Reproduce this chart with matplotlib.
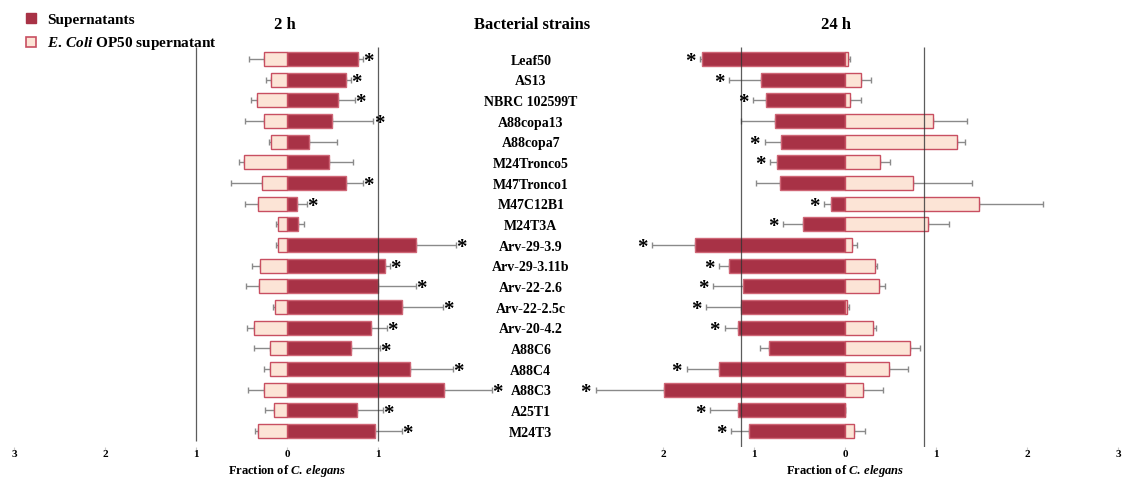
import numpy as np
import matplotlib.pyplot as plt
from matplotlib.lines import Line2D

plt.rcParams['font.family'] = ['Liberation Serif', 'DejaVu Serif']
plt.rcParams['font.weight'] = 'bold'
plt.rcParams['mathtext.fontset'] = 'custom'
plt.rcParams['mathtext.rm'] = 'Liberation Serif:bold'
plt.rcParams['mathtext.it'] = 'Liberation Serif:italic:bold'

strains = ['Leaf50', 'AS13', 'NBRC 102599T', 'A88copa13', 'A88copa7', 'M24Tronco5',
           'M47Tronco1', 'M47C12B1', 'M24T3A', 'Arv-29-3.9', 'Arv-29-3.11b',
           'Arv-22-2.6', 'Arv-22-2.5c', 'Arv-20-4.2', 'A88C6', 'A88C4', 'A88C3',
           'A25T1', 'M24T3']

# 2 h
sup_2h = [0.78, 0.645, 0.557, 0.50, 0.245, 0.46, 0.645, 0.106, 0.125, 1.42,
          1.077, 1.0, 1.26, 0.92, 0.70, 1.35, 1.73, 0.766, 0.97]
sup_2h_err = [0.05, 0.06, 0.19, 0.45, 0.31, 0.27, 0.19, 0.11, 0.066, 0.44,
              0.05, 0.42, 0.45, 0.18, 0.32, 0.47, 0.52, 0.29, 0.29]
op_2h = [0.25, 0.176, 0.326, 0.25, 0.18, 0.47, 0.27, 0.32, 0.10, 0.10,
         0.30, 0.31, 0.128, 0.36, 0.187, 0.183, 0.25, 0.143, 0.32]
op_2h_err = [0.17, 0.055, 0.07, 0.21, 0.015, 0.055, 0.35, 0.14, 0.02, 0.02,
             0.08, 0.14, 0.025, 0.08, 0.18, 0.065, 0.18, 0.10, 0.03]
sig_2h = [1, 1, 1, 1, 0, 0, 1, 1, 0, 1, 1, 1, 1, 1, 1, 1, 1, 1, 1]

# 24 h
sup_24h = [1.57, 0.92, 0.863, 0.77, 0.707, 0.743, 0.714, 0.157, 0.46, 1.647,
           1.27, 1.118, 1.137, 1.18, 0.83, 1.38, 1.99, 1.17, 1.057]
sup_24h_err = [0.02, 0.35, 0.145, 0.37, 0.175, 0.077, 0.26, 0.073, 0.22, 0.47,
               0.11, 0.33, 0.39, 0.14, 0.10, 0.36, 0.75, 0.31, 0.19]
op_24h = [0.03, 0.18, 0.06, 0.965, 1.227, 0.38, 0.747, 1.475, 0.915, 0.073,
          0.325, 0.37, 0.02, 0.306, 0.72, 0.488, 0.20, 0.0, 0.098]
op_24h_err = [0.03, 0.11, 0.12, 0.38, 0.09, 0.12, 0.645, 0.70, 0.23, 0.055,
              0.03, 0.07, 0.02, 0.036, 0.105, 0.21, 0.22, 0.0, 0.125]
sig_24h = [1, 1, 1, 0, 1, 1, 0, 1, 1, 1, 1, 1, 1, 1, 0, 1, 1, 1, 1]

escuro = '#a83246'
escuro_borda = '#cf6676'
claro = '#fce4d6'
claro_borda = '#c84f61'
cinza = '#8a8a8a'

y = np.arange(len(strains))
zeros = np.zeros(len(strains))

fig = plt.figure(figsize=(11.25, 4.79), dpi=100)
ax1 = fig.add_axes([0.01244, 0.0668, 0.4853, 0.8497])
ax2 = fig.add_axes([0.5084, 0.0668, 0.4853, 0.8497])


def eixo(ax, ticks):
    ax.set_xlim(-3, 3)
    ax.set_ylim(18.77, -0.92)
    ax.patch.set_visible(False)
    for s in ax.spines.values():
        s.set_visible(False)
    ax.set_yticks([])
    ax.set_xticks(ticks)
    ax.set_xticklabels([str(abs(t)) for t in ticks], fontsize=8, fontweight='bold')
    ax.tick_params(axis='x', length=2, color='#c8c8c8', pad=0.5)


# painel 2 h: sobrenadantes para a direita, OP50 para a esquerda
ax1.barh(y, sup_2h, height=0.68, color=escuro, edgecolor=escuro_borda, lw=1, zorder=2)
ax1.barh(y, -np.array(op_2h), height=0.68, color=claro, edgecolor=claro_borda, lw=1, zorder=2)
ax1.errorbar(sup_2h, y, xerr=[zeros, sup_2h_err], fmt='none', ecolor=cinza,
             elinewidth=1, capsize=2.5, zorder=1)
ax1.errorbar(-np.array(op_2h), y, xerr=[op_2h_err, zeros], fmt='none', ecolor=cinza,
             elinewidth=1, capsize=2.5, zorder=1)
ax1.vlines([-1, 1], -0.58, 18.48, color='#333333', lw=0.9, alpha=0.8, zorder=5)
for i in range(len(strains)):
    if sig_2h[i]:
        ax1.text(sup_2h[i] + sup_2h_err[i] + 0.06, y[i] + 0.15, '*', fontsize=15,
                 ha='center', va='center', zorder=6)
eixo(ax1, [-3, -2, -1, 0, 1])

# painel 24 h: sobrenadantes para a esquerda, OP50 para a direita
ax2.barh(y, -np.array(sup_24h), height=0.68, color=escuro, edgecolor=escuro_borda, lw=1, zorder=2)
ax2.barh(y, op_24h, height=0.68, color=claro, edgecolor=claro_borda, lw=1, zorder=2)
ax2.errorbar(-np.array(sup_24h), y, xerr=[sup_24h_err, zeros], fmt='none', ecolor=cinza,
             elinewidth=1, capsize=2.5, zorder=1)
ax2.errorbar(op_24h, y, xerr=[zeros, op_24h_err], fmt='none', ecolor=cinza,
             elinewidth=1, capsize=2.5, zorder=1)
ax2.vlines([-1.137, 0.874], -0.58, 18.77, color='#333333', lw=0.9, alpha=0.8, zorder=5)
for i in range(len(strains)):
    if sig_24h[i]:
        ax2.text(-(sup_24h[i] + sup_24h_err[i]) - 0.11, y[i] + 0.15, '*', fontsize=15,
                 ha='center', va='center', zorder=6)
eixo(ax2, [-2, -1, 0, 1, 2, 3])

# nomes das estirpes no centro
for i, nome in enumerate(strains):
    ax1.text(2.68, y[i] + 0.1, nome, fontsize=10, fontweight='bold', ha='center',
             va='center', clip_on=False, zorder=7)

fig.text(285 / 1125, 1 - 25 / 479, '2 h', fontsize=12, fontweight='bold', ha='center', va='center')
fig.text(532 / 1125, 1 - 25 / 479, 'Bacterial strains', fontsize=12, fontweight='bold',
         ha='center', va='center')
fig.text(836 / 1125, 1 - 25 / 479, '24 h', fontsize=12, fontweight='bold', ha='center', va='center')

xlab = r'Fraction of $\mathit{C.\,elegans}$'
fig.text(287 / 1125, 1 - 471 / 479, xlab, fontsize=9, fontweight='bold', ha='center', va='center')
fig.text(845 / 1125, 1 - 471 / 479, xlab, fontsize=9, fontweight='bold', ha='center', va='center')

h1 = Line2D([], [], marker='s', ls='none', markersize=7, color=escuro, markeredgecolor=escuro)
h2 = Line2D([], [], marker='s', ls='none', markersize=7, markerfacecolor=claro,
            markeredgecolor=claro_borda, markeredgewidth=1.2)
fig.legend([h1, h2], ['Supernatants', r'$\mathit{E.\,Coli}$ OP50 supernatant'],
           loc='upper left', bbox_to_anchor=(0.013, 0.995), frameon=False,
           prop={'size': 11, 'weight': 'bold'}, handlelength=0.8, handletextpad=0.6,
           labelspacing=0.55, borderpad=0.2)

fig.savefig('out.png', dpi=100)
